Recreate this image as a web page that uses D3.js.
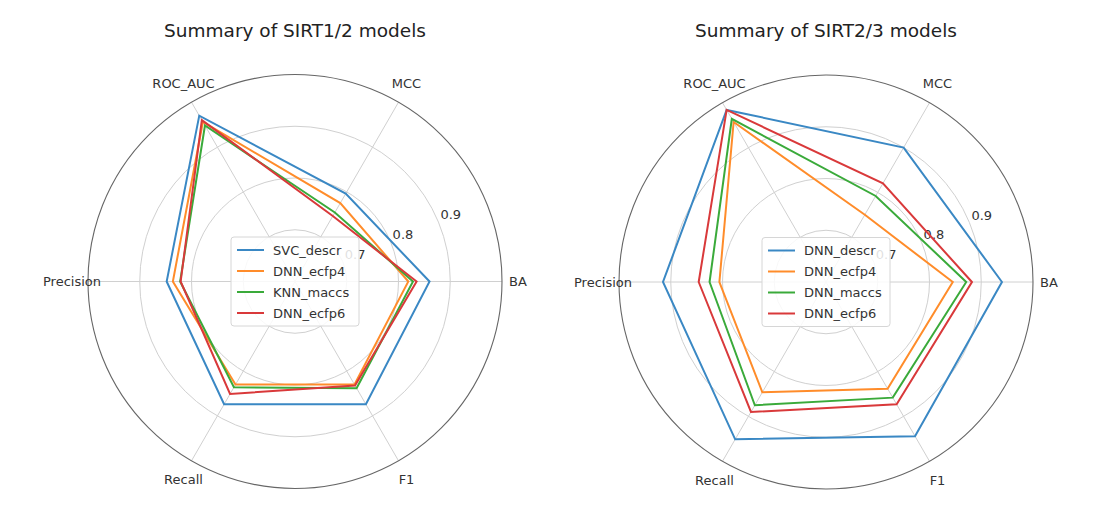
<!DOCTYPE html>
<html>
<head>
<meta charset="utf-8">
<script src="https://cdn.jsdelivr.net/npm/d3@7"></script>
<style>
  html, body { margin: 0; padding: 0; background: #fff; }
  svg { display: block; font-family: "DejaVu Sans", sans-serif; }
</style>
</head>
<body>
<svg id="chart" width="1101" height="505"></svg>
<script>
// Metric axes, counter-clockwise from the right (0°, 60°, 120°, ...)
const metrics = ["BA", "MCC", "ROC_AUC", "Precision", "Recall", "F1"];
const radialTicks = [0.7, 0.8, 0.9];
const seriesColors = ["#3a88c4", "#ff8c2a", "#3aaa3a", "#d9393a"];

// SIRT1/2 models
const sirt12Title = "Summary of SIRT1/2 models";
const sirt12Models = ["SVC_descr", "DNN_ecfp4", "KNN_maccs", "DNN_ecfp6"];
const svcDescr12  = [0.860, 0.796, 0.970, 0.848, 0.874, 0.874];
const dnnEcfp4_12 = [0.819, 0.775, 0.956, 0.836, 0.830, 0.830];
const knnMaccs12  = [0.828, 0.754, 0.948, 0.822, 0.836, 0.838];
const dnnEcfp6_12 = [0.835, 0.746, 0.960, 0.821, 0.851, 0.832];

// SIRT2/3 models
const sirt23Title = "Summary of SIRT2/3 models";
const sirt23Models = ["DNN_descr", "DNN_ecfp4", "DNN_maccs", "DNN_ecfp6"];
const dnnDescr23  = [0.940, 0.900, 0.984, 0.915, 0.951, 0.944];
const dnnEcfp4_23 = [0.845, 0.750, 0.957, 0.806, 0.846, 0.838];
const dnnMaccs23  = [0.871, 0.792, 0.964, 0.825, 0.875, 0.858];
const dnnEcfp6_23 = [0.882, 0.820, 0.984, 0.846, 0.890, 0.873];

const svg = d3.select("#chart");
const R = 207;

function radar(cx, cy, title, names, values) {
  const g = svg.append("g").attr("transform", `translate(${cx},${cy})`);
  const r = d3.scaleLinear().domain([0.6, 1.0]).range([0, R]);
  // angle in math convention (radians, ccw from east)
  const theta = d3.scaleLinear().domain([0, metrics.length]).range([0, 2 * Math.PI]);
  // d3 radial angle: clockwise from north
  const radialAngle = i => Math.PI / 2 - theta(i);

  // grid rings
  g.selectAll("circle.ring").data(radialTicks).join("circle")
    .attr("class", "ring")
    .attr("r", d => r(d))
    .attr("fill", "none").attr("stroke", "#d0d0d0").attr("stroke-width", 1);

  // spokes
  g.selectAll("line.spoke").data(metrics).join("line")
    .attr("class", "spoke")
    .attr("x1", 0).attr("y1", 0)
    .attr("x2", (d, i) => R * Math.cos(theta(i)))
    .attr("y2", (d, i) => -R * Math.sin(theta(i)))
    .attr("stroke", "#d0d0d0").attr("stroke-width", 1);

  // outer frame
  g.append("circle").attr("r", R)
    .attr("fill", "none").attr("stroke", "#666").attr("stroke-width", 1.1);

  // radial tick labels at 22.5°
  const la = 22.5 * Math.PI / 180;
  g.selectAll("text.rtick").data(radialTicks).join("text")
    .attr("class", "rtick")
    .attr("x", d => r(d) * Math.cos(la) + 2)
    .attr("y", d => -r(d) * Math.sin(la) - 3)
    .attr("font-size", 13).attr("fill", "#333")
    .text(d => d3.format(".1f")(d));

  // metric labels
  g.selectAll("text.metric").data(metrics).join("text")
    .attr("class", "metric")
    .attr("x", (d, i) => (R + 16) * Math.cos(theta(i)))
    .attr("y", (d, i) => -(R + 22) * Math.sin(theta(i)))
    .attr("text-anchor", "middle")
    .attr("dominant-baseline", "central")
    .attr("font-size", 13).attr("fill", "#333")
    .text(d => d);

  // series polygons
  const line = d3.lineRadial()
    .angle((d, i) => radialAngle(i))
    .radius(d => r(d))
    .curve(d3.curveLinearClosed);

  g.selectAll("path.series").data(values).join("path")
    .attr("class", "series")
    .attr("d", d => line(d))
    .attr("fill", "none")
    .attr("stroke", (d, i) => seriesColors[i])
    .attr("stroke-width", 2)
    .attr("stroke-linejoin", "miter");

  // title
  svg.append("text")
    .attr("x", cx).attr("y", 37)
    .attr("text-anchor", "middle")
    .attr("font-size", 18.5).attr("fill", "#222")
    .text(title);

  // legend (centered)
  const lw = 128, lh = 89;
  const lg = g.append("g").attr("transform", `translate(${-lw / 2},${-lh / 2})`);
  lg.append("rect")
    .attr("width", lw).attr("height", lh).attr("rx", 3)
    .attr("fill", "#fff").attr("fill-opacity", 0.85)
    .attr("stroke", "#d6d6d6").attr("stroke-width", 1);
  const rowY = d3.scaleLinear().domain([0, names.length - 1]).range([13, 76]);
  const items = lg.selectAll("g.item").data(names).join("g")
    .attr("class", "item")
    .attr("transform", (d, i) => `translate(0,${rowY(i)})`);
  items.append("line")
    .attr("x1", 6).attr("x2", 33).attr("y1", 0).attr("y2", 0)
    .attr("stroke", (d, i) => seriesColors[i]).attr("stroke-width", 2);
  items.append("text")
    .attr("x", 42).attr("y", 0)
    .attr("dominant-baseline", "central")
    .attr("font-size", 13).attr("fill", "#333")
    .text(d => d);
}

radar(295, 281.5, sirt12Title, sirt12Models, [svcDescr12, dnnEcfp4_12, knnMaccs12, dnnEcfp6_12]);
radar(826, 282, sirt23Title, sirt23Models, [dnnDescr23, dnnEcfp4_23, dnnMaccs23, dnnEcfp6_23]);
</script>
</body>
</html>
